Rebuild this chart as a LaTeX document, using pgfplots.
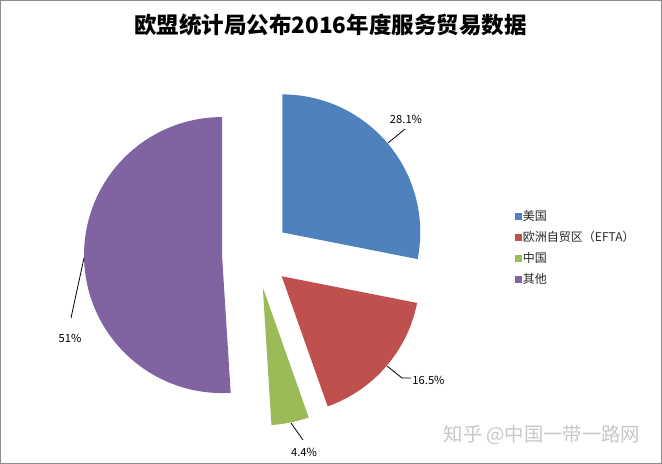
\documentclass[border=0pt]{standalone}
\usepackage{pgfplots}
\pgfplotsset{compat=1.18}
\usepackage{pgfplotstable}
\usepackage{fontspec}
\setmainfont{Liberation Sans}
\newfontfamily\cjk{Noto Sans CJK SC}
\definecolor{cblue}{HTML}{4F81BD}
\definecolor{cred}{HTML}{C0504D}
\definecolor{cgreen}{HTML}{9BBB59}
\definecolor{cpurple}{HTML}{8064A2}
\definecolor{frame}{HTML}{8C8C8C}
\pgfplotstableread{
value
28.1
16.5
4.4
51
}\piedata
\begin{document}
\begin{tikzpicture}
\pgfplotstablegetelem{0}{value}\of\piedata \let\vA\pgfplotsretval
\pgfplotstablegetelem{1}{value}\of\piedata \let\vB\pgfplotsretval
\pgfplotstablegetelem{2}{value}\of\piedata \let\vC\pgfplotsretval
\pgfplotstablegetelem{3}{value}\of\piedata \let\vD\pgfplotsretval
\pgfmathsetmacro\sA{90}
\pgfmathsetmacro\eA{\sA-3.6*\vA}
\pgfmathsetmacro\eB{\eA-3.6*\vB}
\pgfmathsetmacro\eC{\eB-3.6*\vC}
\pgfmathsetmacro\eD{\eC-3.6*\vD}
\pgfmathsetmacro\xA{256+34*cos((\sA+\eA)/2)}\pgfmathsetmacro\yA{210+34*sin((\sA+\eA)/2)}
\pgfmathsetmacro\xB{256+34*cos((\eA+\eB)/2)}\pgfmathsetmacro\yB{210+34*sin((\eA+\eB)/2)}
\pgfmathsetmacro\xC{256+34*cos((\eB+\eC)/2)}\pgfmathsetmacro\yC{210+34*sin((\eB+\eC)/2)}
\pgfmathsetmacro\xD{256+34*cos((\eC+\eD)/2)}\pgfmathsetmacro\yD{210+34*sin((\eC+\eD)/2)}
\begin{axis}[x=0.75pt,y=0.75pt,xmin=0,xmax=662,ymin=0,ymax=464,
  hide axis, clip=false,
  legend image code/.code={\fill[#1] (0pt,-2.6pt) rectangle (5.25pt,2.6pt);},
  legend style={at={(axis cs:515,216)},anchor=west,draw=none,fill=none,inner sep=0pt,
    font=\cjk\fontsize{9}{10}\selectfont, text=black!85,
    nodes={inner sep=0.5pt}, row sep=5.5pt,
    /tikz/every even column/.append style={column sep=2.75pt}},
  legend cell align=left,
  legend entries={美国,欧洲自贸区（EFTA）,中国,其他}]
\addlegendimage{fill=cblue,draw=none}
\addlegendimage{fill=cred,draw=none}
\addlegendimage{fill=cgreen,draw=none}
\addlegendimage{fill=cpurple,draw=none}
\fill[cblue] (axis cs:\xA,\yA) -- ++(\sA:103.5pt) arc[start angle=\sA,end angle=\eA,radius=103.5pt] -- cycle;
\fill[cred] (axis cs:\xB,\yB) -- ++(\eA:103.5pt) arc[start angle=\eA,end angle=\eB,radius=103.5pt] -- cycle;
\fill[cgreen] (axis cs:\xC,\yC) -- ++(\eB:103.5pt) arc[start angle=\eB,end angle=\eC,radius=103.5pt] -- cycle;
\fill[cpurple] (axis cs:\xD,\yD) -- ++(\eC:103.5pt) arc[start angle=\eC,end angle=\eD,radius=103.5pt] -- cycle;
% leader lines
\draw[line width=0.6pt] (axis cs:388,321) -- (axis cs:405,335);
\draw[line width=0.6pt] (axis cs:387,98) -- (axis cs:402,86) -- (axis cs:411,86);
\draw[line width=0.6pt] (axis cs:291,41) -- (axis cs:303,24);
\draw[line width=0.6pt] (axis cs:84,206) -- (axis cs:71,146);
% data labels
\node[font=\cjk\fontsize{8.4}{10}\selectfont] at (axis cs:406,345) {28.1\%};
\node[font=\cjk\fontsize{8.4}{10}\selectfont] at (axis cs:428.5,84) {16.5\%};
\node[font=\cjk\fontsize{8.4}{10}\selectfont] at (axis cs:304,12) {4.4\%};
\node[font=\cjk\fontsize{8.4}{10}\selectfont] at (axis cs:70,126) {51\%};
% title
\node[font=\cjk\bfseries\fontsize{16.9}{20}\selectfont] at (axis cs:330.5,439) {欧盟统计局公布2016年度服务贸易数据};
% watermark
\node[text=black!22,font=\cjk\fontsize{14.5}{16}\selectfont] at (axis cs:542,29) {知乎 @中国一带一路网};
% frame
\draw[frame,line width=0.75pt] (axis cs:0.5,0.5) rectangle (axis cs:661.5,463.5);
\end{axis}
\end{tikzpicture}
\end{document}
